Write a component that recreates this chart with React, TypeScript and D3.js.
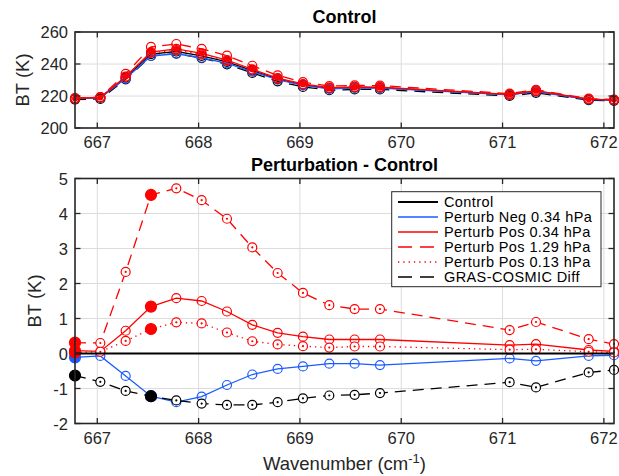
import React from "react";
import * as d3 from "d3";

const wavenumbers = [666.78, 667.03, 667.28, 667.53, 667.78, 668.03, 668.28, 668.53, 668.78, 669.03, 669.29, 669.54, 669.79, 671.07, 671.33, 671.85, 672.1];

// Top panel: brightness temperature (K)
const btControl = [218.4, 219.0, 231.5, 246.2, 247.8, 245.1, 241.3, 235.9, 230.6, 227.0, 224.8, 225.3, 225.2, 220.8, 223.0, 217.9, 217.5];
const btNeg034 = [218.3, 218.9, 230.9, 245.0, 246.4, 243.9, 240.4, 235.3, 230.2, 226.6, 224.5, 225.0, 224.9, 220.7, 222.8, 217.8, 217.5];
const btPos034 = [218.5, 219.1, 232.2, 247.5, 249.4, 246.6, 242.5, 236.7, 231.2, 227.5, 225.2, 225.7, 225.6, 221.0, 223.3, 218.0, 217.6];
const btPos129 = [218.7, 219.3, 233.8, 250.7, 252.5, 249.5, 245.2, 238.9, 232.9, 228.7, 226.2, 226.6, 226.5, 221.5, 223.9, 218.3, 217.8];
const btPos013 = [218.4, 219.1, 231.9, 246.9, 248.7, 246.0, 241.9, 236.3, 230.9, 227.2, 225.0, 225.5, 225.4, 220.9, 223.1, 218.0, 217.5];
const btGras = [217.8, 218.2, 230.4, 245.0, 246.5, 243.7, 239.8, 234.4, 229.2, 225.7, 223.6, 224.1, 224.1, 220.0, 222.0, 217.4, 217.0];

// Bottom panel: perturbation - control (K)
const dControl = [0, 0, 0, 0, 0, 0, 0, 0, 0, 0, 0, 0, 0, 0, 0, 0, 0];
const dNeg034 = [-0.11, -0.07, -0.64, -1.22, -1.39, -1.23, -0.9, -0.6, -0.44, -0.37, -0.29, -0.29, -0.33, -0.14, -0.21, -0.07, -0.05];
const dPos034 = [0.08, 0.06, 0.65, 1.34, 1.58, 1.5, 1.2, 0.82, 0.59, 0.48, 0.4, 0.4, 0.4, 0.24, 0.27, 0.1, 0.06];
const dPos129 = [0.31, 0.3, 2.33, 4.53, 4.72, 4.38, 3.85, 3.03, 2.3, 1.73, 1.38, 1.27, 1.27, 0.67, 0.9, 0.41, 0.27];
const dPos013 = [0.03, 0.05, 0.36, 0.7, 0.89, 0.86, 0.6, 0.35, 0.26, 0.21, 0.17, 0.2, 0.2, 0.11, 0.12, 0.05, 0.03];
const dGras = [-0.63, -0.81, -1.07, -1.22, -1.34, -1.43, -1.47, -1.47, -1.39, -1.28, -1.2, -1.18, -1.13, -0.82, -0.97, -0.54, -0.47];

const filledIdx = [0, 3];

const xTicks = [667, 668, 669, 670, 671, 672];
const topYTicks = [200, 220, 240, 260];
const botYTicks = [-2, -1, 0, 1, 2, 3, 4, 5];

const legendLabels = ["Control", "Perturb Neg 0.34 hPa", "Perturb Pos 0.34 hPa", "Perturb Pos 1.29 hPa", "Perturb Pos 0.13 hPa", "GRAS-COSMIC Diff"];

const RED = "#ff0000";
const BLUE = "#1a5cff";
const BLACK = "#000000";
const AX = "#262626";
const FONT = "'Liberation Sans', Arial, Helvetica, sans-serif";

type Style = { color: string; dash: string | null; center: boolean; width: number };
const styles: Style[] = [
  { color: BLACK, dash: null, center: false, width: 2 },
  { color: BLUE, dash: null, center: false, width: 1.3 },
  { color: RED, dash: null, center: false, width: 1.3 },
  { color: RED, dash: "11,7", center: true, width: 1.3 },
  { color: RED, dash: "1.3,4", center: true, width: 1.3 },
  { color: BLACK, dash: "11,7", center: true, width: 1.3 },
];

const L = 75, R = 614;
const topP = { t: 32, b: 128 };
const botP = { t: 178.5, b: 423.5 };

const x = d3.scaleLinear().domain([666.78, 672.1]).range([L, R]);
const yTop = d3.scaleLinear().domain([200, 260]).range([topP.b, topP.t]);
const yBot = d3.scaleLinear().domain([-2, 5]).range([botP.b, botP.t]);

function Grid({ y, yTicks, t, b }: { y: d3.ScaleLinear<number, number>; yTicks: number[]; t: number; b: number }) {
  return (
    <g>
      {xTicks.map((v) => (
        <line key={"gx" + v} x1={x(v)} x2={x(v)} y1={t} y2={b} stroke="#dcdcdc" strokeWidth={1} />
      ))}
      {yTicks.map((v) => (
        <line key={"gy" + v} x1={L} x2={R} y1={y(v)} y2={y(v)} stroke="#dcdcdc" strokeWidth={1} />
      ))}
    </g>
  );
}

function Axes({ y, yTicks, t, b }: { y: d3.ScaleLinear<number, number>; yTicks: number[]; t: number; b: number }) {
  const tl = 5.5;
  return (
    <g>
      {xTicks.map((v) => (
        <g key={"tx" + v}>
          <line x1={x(v)} x2={x(v)} y1={b} y2={b - tl} stroke={AX} strokeWidth={1.3} />
          <line x1={x(v)} x2={x(v)} y1={t} y2={t + tl} stroke={AX} strokeWidth={1.3} />
          <text x={x(v)} y={b + 20} textAnchor="middle" fontSize={16.5} fill={AX} fontFamily={FONT}>{v}</text>
        </g>
      ))}
      {yTicks.map((v) => (
        <g key={"ty" + v}>
          <line x1={L} x2={L + tl} y1={y(v)} y2={y(v)} stroke={AX} strokeWidth={1.3} />
          <line x1={R} x2={R - tl} y1={y(v)} y2={y(v)} stroke={AX} strokeWidth={1.3} />
          <text x={L - 7} y={y(v) + 6} textAnchor="end" fontSize={16.5} fill={AX} fontFamily={FONT}>{v}</text>
        </g>
      ))}
      <rect x={L} y={t} width={R - L} height={b - t} fill="none" stroke={AX} strokeWidth={1.6} />
    </g>
  );
}

function Series({ xs, ys, y, st, filled, dotFill, markerR, showMarkers = true }: any) {
  const line = d3.line<number>().x((_, i) => x(xs[i])).y((d) => y(d));
  return (
    <g>
      <path d={line(ys) || ""} fill="none" stroke={st.color} strokeWidth={st.width} strokeDasharray={st.dash || undefined} />
      {showMarkers &&
        ys.map((v: number, i: number) => {
          const cx = x(xs[i]);
          const cy = y(v);
          if (filled && filled.includes(i)) {
            return <circle key={i} cx={cx} cy={cy} r={markerR + 1} fill={st.color} stroke={st.color} strokeWidth={1.2} />;
          }
          return (
            <g key={i}>
              <circle cx={cx} cy={cy} r={markerR} fill={st.center ? "#ffffff" : "none"} stroke={st.color} strokeWidth={1.2} />
              {st.center && <circle cx={cx} cy={cy} r={1.1} fill={st.color} />}
              {dotFill && <circle cx={cx} cy={cy} r={markerR - 1.5} fill={dotFill} />}
            </g>
          );
        })}
    </g>
  );
}

export default function App() {
  const topSeries = [btGras, btControl, btNeg034, btPos013, btPos129, btPos034];
  const topStyles = [styles[5], styles[0], styles[1], styles[4], styles[3], styles[2]];
  const botSeries = [dNeg034, dPos034, dPos129, dPos013, dGras];
  const botStyles = [styles[1], styles[2], styles[3], styles[4], styles[5]];
  const lg = { x: 391.7, y: 191.7, w: 209.3, h: 95, row0: 202, step: 15 };
  return (
    <svg width={619} height={476} style={{ position: "absolute", left: 0, top: 0, background: "#fff" }} fontFamily={FONT}>
      <rect x={0} y={0} width={619} height={476} fill="#fff" />
      {/* Top panel */}
      <Grid y={yTop} yTicks={topYTicks} t={topP.t} b={topP.b} />
      {topSeries.map((s, k) => (
        <Series key={"ts" + k} xs={wavenumbers} ys={s} y={yTop} st={{ ...topStyles[k], center: false, width: 1.3 }} markerR={4.5} dotFill={k === 5 ? RED : null} />
      ))}
      <Axes y={yTop} yTicks={topYTicks} t={topP.t} b={topP.b} />
      <text x={(L + R) / 2} y={23} textAnchor="middle" fontSize={18} fontWeight="bold" fill="#000">Control</text>
      <text transform={`translate(29,${(topP.t + topP.b) / 2}) rotate(-90)`} textAnchor="middle" fontSize={18.5} fill={AX}>BT (K)</text>

      {/* Bottom panel */}
      <Grid y={yBot} yTicks={botYTicks} t={botP.t} b={botP.b} />
      {botSeries.map((s, k) => (
        <Series key={"bs" + k} xs={wavenumbers} ys={s} y={yBot} st={botStyles[k]} markerR={4.5} filled={filledIdx} />
      ))}
      <Series xs={wavenumbers} ys={dControl} y={yBot} st={styles[0]} markerR={4.5} showMarkers={false} />
      <Axes y={yBot} yTicks={botYTicks} t={botP.t} b={botP.b} />
      <text x={(L + R) / 2} y={171} textAnchor="middle" fontSize={18} fontWeight="bold" fill="#000">Perturbation - Control</text>
      <text transform={`translate(41,${(botP.t + botP.b) / 2}) rotate(-90)`} textAnchor="middle" fontSize={18.5} fill={AX}>BT (K)</text>
      <text x={(L + R) / 2} y={470} textAnchor="middle" fontSize={18.5} fill={AX}>
        Wavenumber (cm<tspan dy={-7} fontSize={13}>-1</tspan><tspan dy={7}>)</tspan>
      </text>

      {/* Legend */}
      <rect x={lg.x} y={lg.y} width={lg.w} height={lg.h} fill="#fff" stroke={AX} strokeWidth={1} />
      {legendLabels.map((lab, i) => {
        const yy = lg.row0 + i * lg.step;
        const st = styles[i];
        return (
          <g key={"lg" + i}>
            <line x1={398} x2={438} y1={yy} y2={yy} stroke={st.color} strokeWidth={st.width === 2 ? 2 : 1.5} strokeDasharray={st.dash === "11,7" ? "14,8" : st.dash || undefined} />
            <text x={444} y={yy + 5} fontSize={14.5} letterSpacing={0.4} fill="#000">{lab}</text>
          </g>
        );
      })}
    </svg>
  );
}
